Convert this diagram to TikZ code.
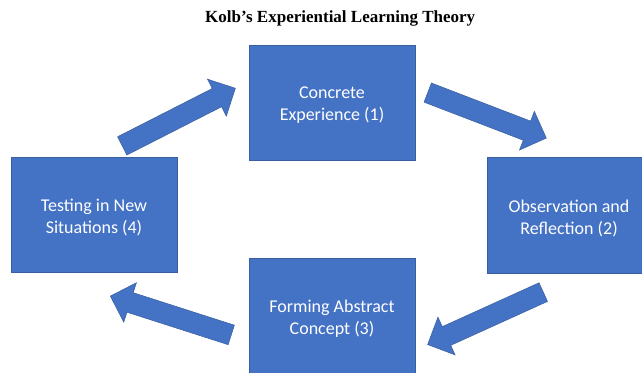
\documentclass[tikz,border=0pt]{standalone}
\usepackage{fontspec}
\setmainfont{Carlito}
\newfontfamily\titlefont{Liberation Serif}
\usetikzlibrary{shapes.arrows}

\definecolor{boxblue}{HTML}{4472C4}
\definecolor{boxedge}{HTML}{3A5F9F}

\tikzset{
  stage/.style={rectangle, fill=boxblue, draw=boxedge, line width=0.7pt,
    minimum width=166pt, minimum height=115pt, inner sep=0pt},
  stagetext/.style={align=center, text=white, inner sep=0pt,
    font=\fontsize{18}{22}\selectfont},
  flow/.style={single arrow, fill=boxblue, draw=boxedge, line width=0.5pt,
    inner sep=0pt, text height=20pt, text depth=0pt, text width=0pt,
    minimum height=127pt, single arrow head extend=10.5pt,
    single arrow tip angle=90, anchor=tail}
}

\begin{document}
\begin{tikzpicture}[x=1pt,y=-1pt]
  \useasboundingbox (0,0) rectangle (642,372);
  \clip (0,0) rectangle (642,372);

  % title
  \node[anchor=base west, inner sep=0pt, font=\titlefont\bfseries\fontsize{17}{20}\selectfont]
    (title) at (205,22) {Kolb’s Experiential Learning Theory};

  % the four stages of the cycle
  \node[stage] (s1) at (332,102.5) {};
  \node[stage, minimum width=164pt, minimum height=116pt] (s2) at (569,215) {};
  \node[stage] (s3) at (332,315.5) {};
  \node[stage] (s4) at (94,214.5) {};

  % stage captions, set a little below the box centres
  \node[stagetext] (s1t) at ([yshift=-3pt]s1.center) {Concrete\\Experience (1)};
  \node[stagetext] (s2t) at ([yshift=-3pt]s2.center) {Observation and\\Reflection (2)};
  \node[stagetext] (s3t) at ([yshift=-3pt]s3.center) {Forming Abstract\\Concept (3)};
  \node[stagetext] (s4t) at ([yshift=-3pt]s4.center) {Testing in New\\Situations (4)};

  % block arrows between the stages
  \node[flow, rotate=27] (a41) at (122,146) {};
  \node[flow, rotate=-21] (a12) at (427.5,92.5) {};
  \node[flow, rotate=204.4] (a23) at (543.5,292) {};
  \node[flow, rotate=162.2] (a34) at (231.5,335) {};
\end{tikzpicture}
\end{document}
